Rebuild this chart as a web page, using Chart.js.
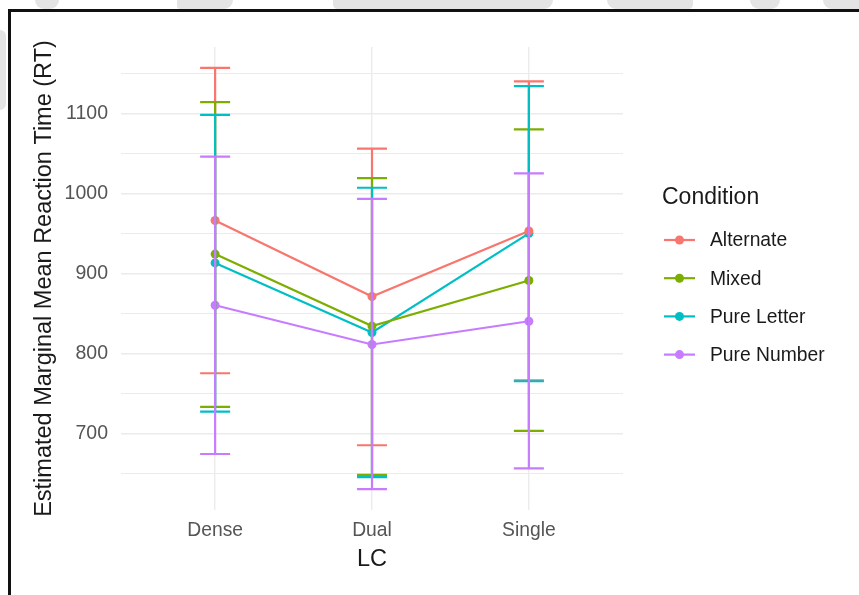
<!DOCTYPE html>
<html>
<head>
<meta charset="utf-8">
<script src="https://cdn.jsdelivr.net/npm/chart.js@4.4.1/dist/chart.umd.min.js"></script>
<style>
  html, body { margin: 0; padding: 0; background: #fff; width: 859px; height: 595px; overflow: hidden; position: relative; }
  #chart { position: absolute; left: 0; top: 0; }
  .frame { position: absolute; left: 8px; top: 9px; right: -10px; bottom: -10px; border-top: 3px solid #111; border-left: 3px solid #111; pointer-events: none; }
  .blob { position: absolute; background: #e4e4e4; }
</style>
</head>
<body>
<div class="blob" style="left:35px;top:0;width:24px;height:9px;border-radius:0 0 12px 12px;"></div>
<div class="blob" style="left:177px;top:0;width:56px;height:9px;border-radius:0 0 30px 10px;"></div>
<div class="blob" style="left:333px;top:0;width:220px;height:9px;border-radius:0 0 40px 20px;"></div>
<div class="blob" style="left:607px;top:0;width:86px;height:9px;border-radius:0 0 20px 40px;"></div>
<div class="blob" style="left:750px;top:0;width:30px;height:9px;border-radius:0 0 10px 10px;"></div>
<div class="blob" style="left:823px;top:0;width:36px;height:9px;border-radius:0 0 0 14px;"></div>
<div class="blob" style="left:0;top:30px;width:6px;height:80px;border-radius:0 6px 6px 0;"></div>
<canvas id="chart" width="859" height="595"></canvas>
<div class="frame"></div>
<script>
// Estimated marginal means of reaction time by LC and condition, with 95% CIs
const categories = ['Dense', 'Dual', 'Single'];
const conditions = ['Alternate', 'Mixed', 'Pure Letter', 'Pure Number'];

const alternateMean  = [966, 871, 953];
const alternateLower = [775, 685, 766];
const alternateUpper = [1157, 1056, 1140];

const mixedMean  = [924, 834, 891];
const mixedLower = [733, 648, 703];
const mixedUpper = [1114, 1019, 1080];

const letterMean  = [913, 826, 950];
const letterLower = [727, 645, 765];
const letterUpper = [1098, 1007, 1134];

const numberMean  = [860, 811, 840];
const numberLower = [674, 630, 656];
const numberUpper = [1046, 993, 1025];

const yTickLabels = [700, 800, 900, 1000, 1100];
const yGridValues = [650, 700, 750, 800, 850, 900, 950, 1000, 1050, 1100, 1150];

const colors = ['#F8766D', '#7CAE00', '#00BFC4', '#C77CFF'];
const means  = [alternateMean, mixedMean, letterMean, numberMean];
const lowers = [alternateLower, mixedLower, letterLower, numberLower];
const uppers = [alternateUpper, mixedUpper, letterUpper, numberUpper];

const FONT = '"Liberation Sans", Arial, Helvetica, sans-serif';

const datasets = conditions.map((name, i) => ({
  label: name,
  data: means[i].map((v, j) => ({ x: j + 1, y: v })),
  borderColor: colors[i],
  backgroundColor: colors[i],
  pointBackgroundColor: colors[i],
  pointBorderColor: colors[i],
  borderWidth: 2.2,
  pointRadius: 4.5,
  pointBorderWidth: 0,
  tension: 0,
  fill: false
}));

// Vertical CI bars with caps, drawn above the points
const errorBars = {
  id: 'errorBars',
  afterDatasetsDraw(chart) {
    const { ctx, scales: { x, y } } = chart;
    ctx.save();
    ctx.lineWidth = 2.2;
    ctx.lineCap = 'butt';
    conditions.forEach((name, i) => {
      ctx.strokeStyle = colors[i];
      categories.forEach((cat, j) => {
        const px = x.getPixelForValue(j + 1);
        const lo = y.getPixelForValue(lowers[i][j]);
        const hi = y.getPixelForValue(uppers[i][j]);
        const half = 15;
        ctx.beginPath();
        ctx.moveTo(px, lo); ctx.lineTo(px, hi);
        ctx.moveTo(px - half, lo); ctx.lineTo(px + half, lo);
        ctx.moveTo(px - half, hi); ctx.lineTo(px + half, hi);
        ctx.stroke();
      });
    });
    ctx.restore();
  }
};

// Legend to the right of the panel: line + dot keys
const conditionLegend = {
  id: 'conditionLegend',
  afterDraw(chart) {
    const { ctx, chartArea } = chart;
    const left = chartArea.right + 39;
    ctx.save();
    ctx.textBaseline = 'middle';
    ctx.textAlign = 'left';
    ctx.fillStyle = '#1a1a1a';
    ctx.font = '23px ' + FONT;
    ctx.fillText('Condition', left, 198);
    ctx.font = '19.3px ' + FONT;
    conditions.forEach((name, i) => {
      const cy = 240 + i * 38.2;
      ctx.strokeStyle = colors[i];
      ctx.lineWidth = 2.2;
      ctx.beginPath();
      ctx.moveTo(left + 2, cy); ctx.lineTo(left + 33, cy);
      ctx.stroke();
      ctx.fillStyle = colors[i];
      ctx.beginPath();
      ctx.arc(left + 17.5, cy, 4.5, 0, Math.PI * 2);
      ctx.fill();
      ctx.fillStyle = '#1a1a1a';
      ctx.fillText(name, left + 48, cy + 1);
    });
    ctx.restore();
  }
};

new Chart(document.getElementById('chart'), {
  type: 'line',
  data: { datasets },
  options: {
    responsive: false,
    animation: false,
    devicePixelRatio: 1,
    layout: { padding: { left: 0, right: 236, top: 47, bottom: 0 } },
    plugins: { legend: { display: false }, tooltip: { enabled: false } },
    scales: {
      x: {
        type: 'linear',
        min: 0.4,
        max: 3.6,
        afterBuildTicks(scale) { scale.ticks = categories.map((c, j) => ({ value: j + 1 })); },
        afterFit(scale) { scale.height = 85; },
        ticks: {
          callback: (v) => categories[v - 1] ?? '',
          color: '#555',
          font: { family: FONT, size: 19.3 },
          padding: 9,
          maxRotation: 0,
          autoSkip: false
        },
        grid: { color: '#ebebeb', lineWidth: 1.4, drawTicks: false },
        border: { display: false },
        title: {
          display: true,
          text: 'LC',
          color: '#1a1a1a',
          font: { family: FONT, size: 23.5 },
          padding: { top: 0, bottom: 21 }
        }
      },
      y: {
        type: 'linear',
        min: 604,
        max: 1183,
        afterBuildTicks(scale) { scale.ticks = yGridValues.map(v => ({ value: v })); },
        afterFit(scale) { scale.width = 121; },
        ticks: {
          callback: (v) => yTickLabels.includes(v) ? String(v) : '',
          color: '#555',
          font: { family: FONT, size: 19.5 },
          padding: 13,
          autoSkip: false
        },
        grid: {
          color: '#ebebeb',
          lineWidth: (c) => (c.tick && yTickLabels.includes(c.tick.value)) ? 1.4 : 1,
          drawTicks: false
        },
        border: { display: false },
        title: {
          display: true,
          text: 'Estimated Marginal Mean Reaction Time (RT)',
          color: '#1a1a1a',
          font: { family: FONT, size: 23.5 },
          padding: { top: 30, bottom: 0 }
        }
      }
    }
  },
  plugins: [errorBars, conditionLegend]
});
</script>
</body>
</html>
